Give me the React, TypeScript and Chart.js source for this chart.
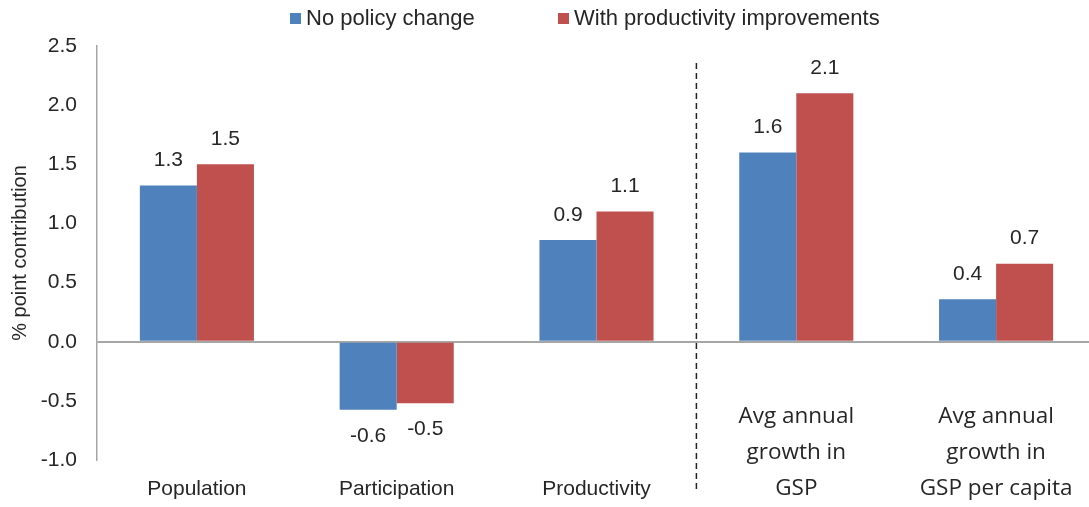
import React, { useEffect, useRef } from "react";
import { Chart, registerables } from "chart.js";

Chart.register(...registerables);

// Category labels (one array per line of text)
const categories: string[][] = [
  ["Population"],
  ["Participation"],
  ["Productivity"],
  ["Avg annual", "growth in", "GSP"],
  ["Avg annual", "growth in", "GSP per capita"],
];

const noPolicyChange = [1.32, -0.575, 0.86, 1.6, 0.36];
const withProductivity = [1.5, -0.52, 1.1, 2.1, 0.66];

const seriesNames = ["No policy change", "With productivity improvements"];
const seriesColors = ["#4F81BD", "#C0504D"];

const yTicks = [-1.0, -0.5, 0.0, 0.5, 1.0, 1.5, 2.0, 2.5];

const TEXT = "#262626";
const SANS = "'Liberation Sans', Arial, sans-serif";
const HUMANIST = "'Open Sans', 'Noto Sans', sans-serif";

// Value labels above positive bars, below negative ones
const valueLabels = {
  id: "valueLabels",
  afterDatasetsDraw(chart: any) {
    const ctx = chart.ctx;
    ctx.save();
    ctx.font = `21px ${SANS}`;
    ctx.fillStyle = TEXT;
    ctx.textAlign = "center";
    ctx.textBaseline = "middle";
    chart.data.datasets.forEach((ds: any, di: number) => {
      const meta = chart.getDatasetMeta(di);
      meta.data.forEach((bar: any, i: number) => {
        const v = ds.data[i];
        const y = v >= 0 ? bar.y - 25 : bar.y + 26;
        ctx.fillText(v.toFixed(1), bar.x, y);
      });
    });
    ctx.restore();
  },
};

// Category labels, dashed divider and legend
const decorations = {
  id: "decorations",
  afterDraw(chart: any) {
    const ctx = chart.ctx;
    const x = chart.scales.x;
    ctx.save();

    // divider between component bars and growth totals
    const divX = (x.getPixelForValue(2) + x.getPixelForValue(3)) / 2;
    ctx.strokeStyle = "#222";
    ctx.lineWidth = 1.5;
    ctx.setLineDash([6, 4]);
    ctx.beginPath();
    ctx.moveTo(divX, 63);
    ctx.lineTo(divX, 492);
    ctx.stroke();
    ctx.setLineDash([]);

    // category labels, bottom-aligned
    ctx.fillStyle = TEXT;
    ctx.textAlign = "center";
    ctx.textBaseline = "middle";
    const lineGap = 36;
    const lastLineY = 489;
    categories.forEach((lines, i) => {
      const cx = x.getPixelForValue(i);
      ctx.font = lines.length > 1 ? `22.5px ${HUMANIST}` : `21px ${SANS}`;
      lines.forEach((t, li) => {
        const y = lastLineY - (lines.length - 1 - li) * lineGap;
        ctx.fillText(t, cx, y);
      });
    });

    // legend
    ctx.font = `22px ${SANS}`;
    ctx.textAlign = "left";
    const legendX = [290, 558];
    seriesNames.forEach((name, i) => {
      ctx.fillStyle = seriesColors[i];
      ctx.fillRect(legendX[i], 13, 11, 11);
      ctx.fillStyle = TEXT;
      ctx.fillText(name, legendX[i] + 16, 19);
    });

    ctx.restore();
  },
};

export default function App() {
  const canvasRef = useRef<HTMLCanvasElement | null>(null);

  useEffect(() => {
    document.body.style.margin = "0";
    const canvas = canvasRef.current;
    if (!canvas) return;
    const chart = new Chart(canvas, {
      type: "bar",
      data: {
        labels: categories.map((c) => c.join(" ")),
        datasets: [
          {
            label: seriesNames[0],
            data: noPolicyChange,
            backgroundColor: seriesColors[0],
            categoryPercentage: 0.571,
            barPercentage: 1,
          },
          {
            label: seriesNames[1],
            data: withProductivity,
            backgroundColor: seriesColors[1],
            categoryPercentage: 0.571,
            barPercentage: 1,
          },
        ],
      },
      options: {
        animation: false,
        responsive: false,
        maintainAspectRatio: false,
        layout: { padding: { top: 46, bottom: 47, left: 0, right: 0 } },
        plugins: { legend: { display: false }, tooltip: { enabled: false } },
        scales: {
          x: { display: false },
          y: {
            min: -1,
            max: 2.5,
            afterFit(scale: any) {
              scale.width = 97;
            },
            afterBuildTicks(scale: any) {
              scale.ticks = yTicks.map((v) => ({ value: v }));
            },
            ticks: {
              padding: 20,
              color: TEXT,
              font: { family: SANS, size: 21 },
              callback: (v: any) => Number(v).toFixed(1),
            },
            grid: {
              drawTicks: false,
              lineWidth: 2,
              color: (c: any) => (c.tick && c.tick.value === 0 ? "#A6A6A6" : "rgba(0,0,0,0)"),
            },
            border: { display: true, color: "#A6A6A6", width: 1.5 },
            title: {
              display: true,
              text: "% point contribution",
              color: TEXT,
              font: { family: SANS, size: 20 },
              padding: { top: 8, bottom: 4 },
            },
          },
        },
      },
      plugins: [valueLabels, decorations],
    });
    return () => chart.destroy();
  }, []);

  // The plot area runs slightly past the right edge of the visible frame
  return (
    <div style={{ width: 1089, height: 507, overflow: "hidden" }}>
      <canvas ref={canvasRef} width={1096} height={507} style={{ display: "block" }} />
    </div>
  );
}
